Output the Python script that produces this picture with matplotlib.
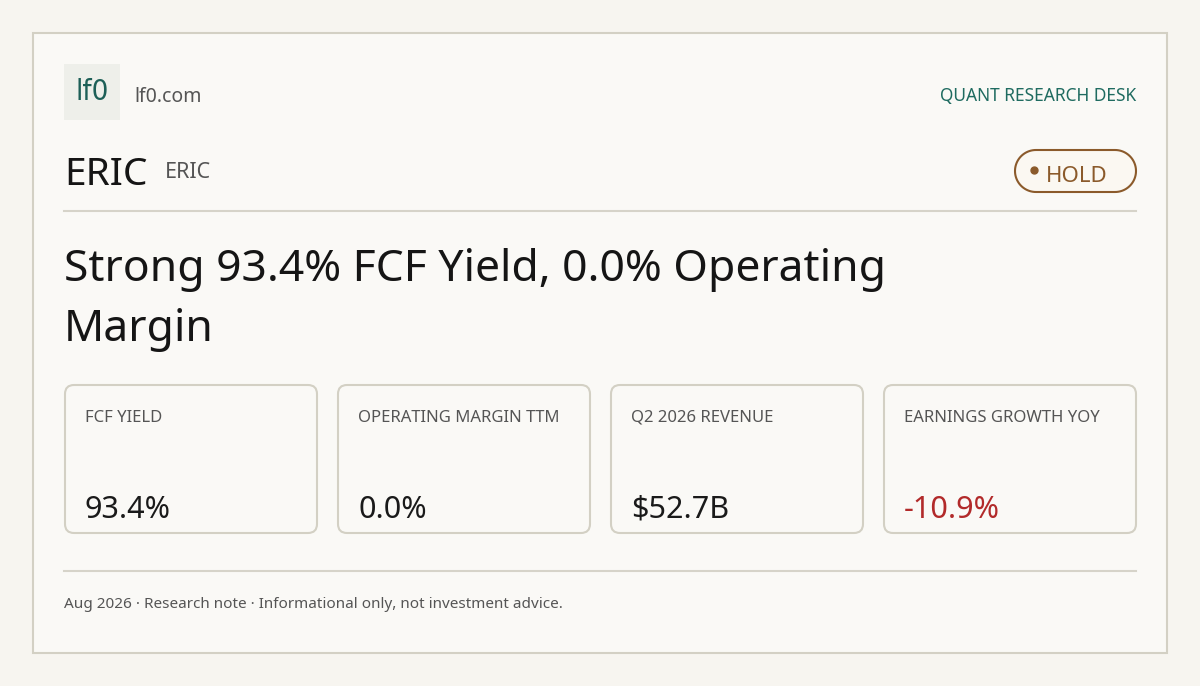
import numpy as np
import matplotlib
matplotlib.use("Agg")
import matplotlib.pyplot as plt
from matplotlib.patches import FancyBboxPatch, Rectangle, Polygon

plt.rcParams['font.family'] = ['Noto Sans', 'DejaVu Sans']

# -----------------------------
# Card content
# -----------------------------
site = "lf0.com"
desk = "QUANT RESEARCH DESK"
ticker = "ERIC"
rating = "HOLD"
headline = ["Strong 93.4% FCF Yield, 0.0% Operating", "Margin"]
metric_labels = ["FCF YIELD", "OPERATING MARGIN TTM", "Q2 2026 REVENUE", "EARNINGS GROWTH YOY"]
metric_values = ["93.4%", "0.0%", "$52.7B", "-10.9%"]
metric_colors = ["#1a1a1a", "#1a1a1a", "#1a1a1a", "#b22a2a"]
footer = "Aug 2026 · Research note · Informational only, not investment advice."

W, H = 1200, 686
fig = plt.figure(figsize=(W / 100, H / 100), dpi=100)
fig.patch.set_facecolor("#f7f5f0")
ax = fig.add_axes([0, 0, 1, 1])
ax.set_xlim(0, W)
ax.set_ylim(H, 0)
ax.axis("off")

# outer card
ax.add_patch(Rectangle((33, 33), 1134, 620, facecolor="#faf9f6", edgecolor="#d3d0c4", lw=1.5))

# logo
ax.add_patch(Rectangle((64, 64), 56, 56, facecolor="#eeefea", edgecolor="none"))
ax.text(92, 92, "lf0", ha="center", va="center", fontsize=21, color="#1d5f57",
        family=["DejaVu Sans", "Noto Sans"], stretch="condensed")
ax.text(134, 97, site, ha="left", va="center", fontsize=14, fontweight="bold", color="#555555")
ax.text(1136, 96, desk, ha="right", va="center", fontsize=12.5, fontweight="bold", color="#1f6b60")

# ticker row
ax.text(64, 175, ticker, ha="left", va="center", fontsize=28, fontweight="bold", color="#151515")
ax.text(165, 172, ticker, ha="left", va="center", fontsize=15.5, color="#555555")

# rating badge (stadium shape)
bx0, bx1, by0, by1 = 1015, 1136, 150, 192
r = (by1 - by0) / 2
t = np.linspace(np.pi / 2, 3 * np.pi / 2, 40)
left = np.c_[bx0 + r + r * np.cos(t), by0 + r + r * np.sin(t)]
right = np.c_[bx1 - r - r * np.cos(t), by0 + r - r * np.sin(t)]
ax.add_patch(Polygon(np.vstack([left, right]), closed=True,
                     facecolor="#fbf8f2", edgecolor="#8b5a2b", lw=1.5))
ax.plot([1034], [170], "o", ms=5, color="#8b5a2b")
ax.text(1046, 176, rating, ha="left", va="center", fontsize=16, fontweight="bold", color="#8b5a2b")

ax.plot([64, 1136], [211, 211], color="#d6d3c9", lw=1.5)

# headline
for i, line in enumerate(headline):
    ax.text(64, 270 + i * 60, line, ha="left", va="center", fontsize=32,
            fontweight="bold", color="#151515")

# metric cards
card_w, gap = 252, 21
for i, (lab, val, col) in enumerate(zip(metric_labels, metric_values, metric_colors)):
    x0 = 65 + i * (card_w + gap)
    ax.add_patch(FancyBboxPatch((x0, 385), card_w, 148, boxstyle="round,pad=0,rounding_size=9",
                                facecolor="#faf9f6", edgecolor="#d3d0c4", lw=1.5))
    ax.text(x0 + 20, 418, lab, ha="left", va="center", fontsize=12, color="#555555")
    ax.text(x0 + 20, 510, val, ha="left", va="center", fontsize=22, fontweight="bold", color=col)

ax.plot([64, 1136], [571, 571], color="#d6d3c9", lw=1.5)
ax.text(64, 605, footer, ha="left", va="center", fontsize=11, color="#555555")

fig.savefig("out.png", dpi=100, facecolor=fig.get_facecolor())
